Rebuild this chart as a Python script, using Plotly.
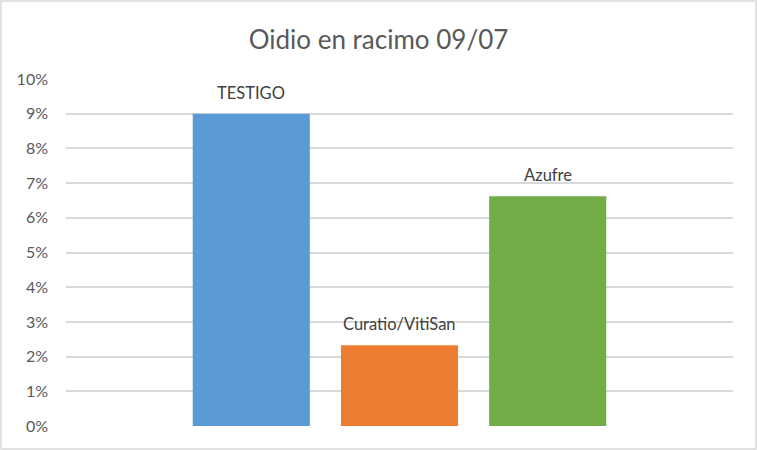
import plotly.graph_objects as go

# datos del grafico
categorias = ["TESTIGO", "Curatio/VitiSan", "Azufre"]
valores = [0.09, 0.0233, 0.0662]
colores = ["#5B9BD5", "#ED7D31", "#70AD47"]
ticks_y = [0, 0.01, 0.02, 0.03, 0.04, 0.05, 0.06, 0.07, 0.08, 0.09, 0.10]
ticks_txt = ["0%", "1%", "2%", "3%", "4%", "5%", "6%", "7%", "8%", "9%", "10%"]

W, H = 757, 450
ml, mr, mt, mb = 66, 24, 79, 24
pw, ph = W - ml - mr, H - mt - mb

fig = go.Figure()
fig.add_trace(go.Bar(
    x=list(range(len(categorias))),
    y=valores,
    width=0.79,
    marker=dict(color=colores, line=dict(width=0)),
    hoverinfo="skip",
))

anots = []
for i, (c, v) in enumerate(zip(categorias, valores)):
    anots.append(dict(
        x=i, y=v, xref="x", yref="y", text=c, showarrow=False,
        yanchor="bottom", yshift=9,
        font=dict(family="Lato", size=16.5, color="#404040"),
    ))

fig.update_layout(
    width=W, height=H,
    margin=dict(l=ml, r=mr, t=mt, b=mb, pad=0),
    paper_bgcolor="white",
    plot_bgcolor="white",
    showlegend=False,
    title=dict(
        text="Oidio en racimo 09/07",
        x=0.5, xanchor="center",
        y=1 - 40 / H, yanchor="middle",
        font=dict(family="Lato", size=26, color="#595959"),
    ),
    xaxis=dict(
        range=[-1.25, 3.25],
        showticklabels=False,
        showgrid=False,
        zeroline=False,
        showline=False,
        fixedrange=True,
    ),
    yaxis=dict(
        range=[0, 0.1],
        tickvals=ticks_y,
        ticktext=ticks_txt,
        showgrid=True,
        gridcolor="#d9d9d9",
        gridwidth=1.5,
        zeroline=False,
        showline=False,
        ticks="",
        ticklabelstandoff=17,
        tickfont=dict(family="Lato", size=16, color="#595959"),
    ),
    annotations=anots,
    shapes=[dict(
        type="rect", xref="paper", yref="paper",
        x0=(1 - ml) / pw, x1=(W - 1 - ml) / pw,
        y0=-(mb - 1) / ph, y1=1 + (mt - 1) / ph,
        line=dict(color="#d9d9d9", width=1.5),
        fillcolor="rgba(0,0,0,0)",
        layer="below",
    )],
)

# quitar el margen del body para que la figura quede en 0,0
fig.write_html("out.html", config={"displayModeBar": False},
               post_script="document.body.style.margin='0';")
